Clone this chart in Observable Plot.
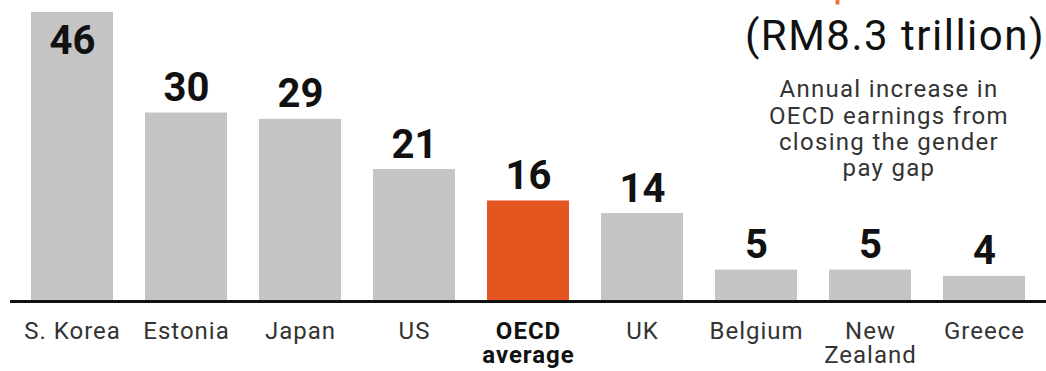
<!DOCTYPE html>
<html><head><meta charset="utf-8">
<script src="https://cdn.jsdelivr.net/npm/d3@7"></script>
<script src="https://cdn.jsdelivr.net/npm/@observablehq/plot@0.6"></script>
<style>body{margin:0;background:#fff;} #chart{width:1046px;height:371px;overflow:hidden}</style>
</head><body><div id="chart"></div>
<script>
const countries = ["S. Korea","Estonia","Japan","US","OECD average","UK","Belgium","New Zealand","Greece"];
const tickLabels = ["S. Korea","Estonia","Japan","US","OECD\naverage","UK","Belgium","New\nZealand","Greece"];
const values = [46,30,29,21,16,14,5,5,4];
const highlight = "OECD average";
const titleText = "US$2 trillion";
const subtitleText = "(RM8.3 trillion)";
const noteLines = ["Annual increase in","OECD earnings from","closing the gender","pay gap"];

const data = countries.map((c,i)=>({country:c, label:tickLabels[i], value:values[i]}));
const maxV = d3.max(values);
const gray = "#c4c4c4", orange = "#e4561f";

const plot = Plot.plot({
  width:1046, height:371, marginTop:12, marginBottom:70, marginLeft:10, marginRight:0,
  style:{fontFamily:"Roboto, sans-serif", background:"#fff"},
  x:{domain:countries, paddingInner:0.28, paddingOuter:0.164, axis:null},
  y:{domain:[0,46], axis:null},
  marks:[
    Plot.barY(data,{x:"country", y:"value", fill:d=>d.country===highlight?orange:gray}),
    Plot.ruleY([0],{stroke:"#111", strokeWidth:3}),
    Plot.text(data.filter(d=>d.value!==maxV),{x:"country", y:"value", text:d=>String(d.value), lineAnchor:"bottom", dy:-12, fontSize:40, fontWeight:"bold", fill:"#111"}),
    Plot.text(data.filter(d=>d.value===maxV),{x:"country", y:"value", text:d=>String(d.value), lineAnchor:"top", dy:13, fontSize:40, fontWeight:"bold", fill:"#111"}),
    Plot.text(data.filter(d=>d.country!==highlight),{x:"country", y:()=>0, text:"label", lineAnchor:"top", dy:20, fontSize:24, fill:"#333", lineHeight:1.0}),
    Plot.text(data.filter(d=>d.country===highlight),{x:"country", y:()=>0, text:"label", lineAnchor:"top", dy:20, fontSize:24, fontWeight:"bold", fill:"#111", lineHeight:1.0})
  ]
});

const svg = d3.select(plot);
svg.selectAll("g[aria-label='text']").filter(function(){return this.getAttribute("font-size")==="24";})
  .style("letter-spacing","1px");
svg.append("text").attr("x",898).attr("y",0).attr("text-anchor","middle")
  .attr("font-family","Roboto, sans-serif").attr("font-size",50).attr("font-weight","bold")
  .attr("fill","#f2713a").text(titleText);
svg.append("text").attr("x",895).attr("y",50).attr("text-anchor","middle")
  .attr("font-family","Roboto, sans-serif").attr("font-size",42).style("letter-spacing","1.5px")
  .attr("fill","#111").text(subtitleText);
const noteY = [97,124,150,176];
noteLines.forEach((t,i)=>{
  svg.append("text").attr("x",889).attr("y",noteY[i]).attr("text-anchor","middle")
    .attr("font-family","Roboto, sans-serif").attr("font-size",24).style("letter-spacing","1.3px")
    .attr("fill","#333").text(t);
});
document.getElementById("chart").appendChild(plot);
</script>
</body></html>
